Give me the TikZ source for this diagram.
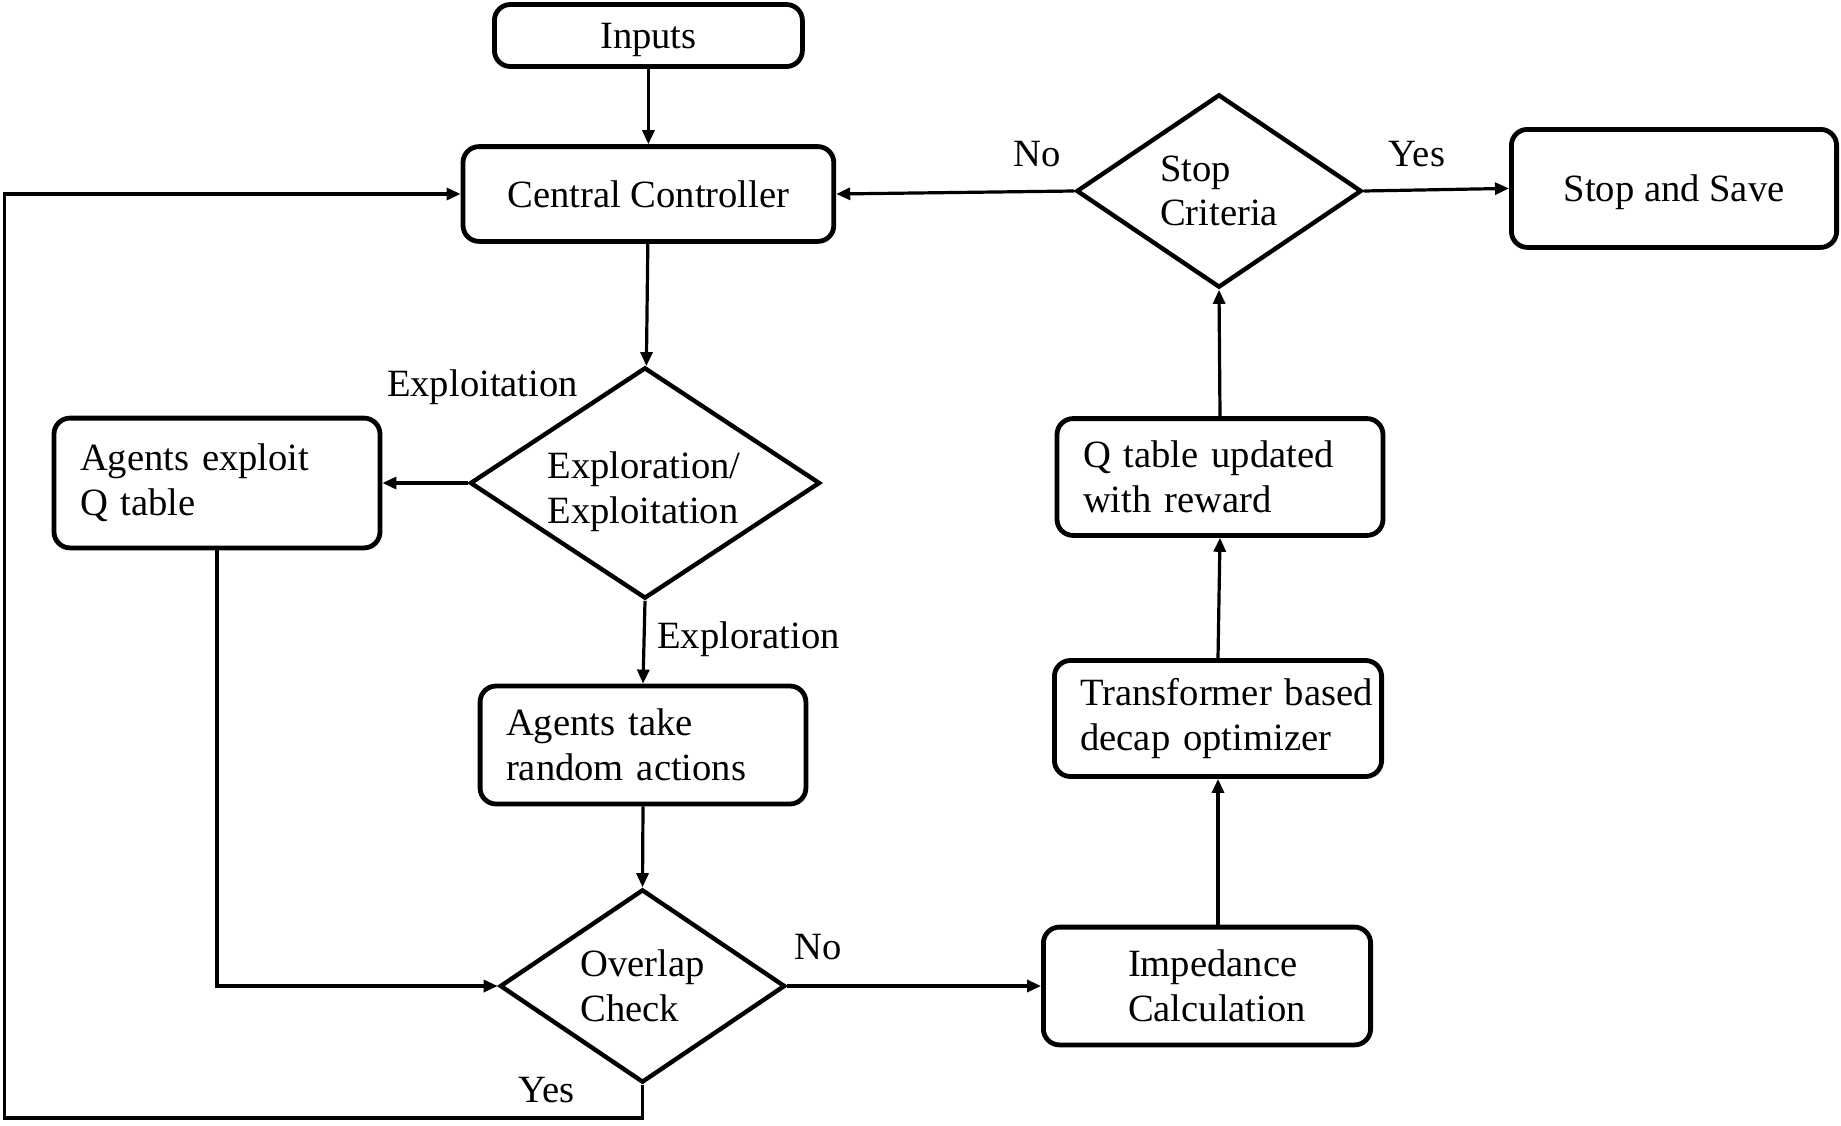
\documentclass[tikz,border=0pt]{standalone}
\usepackage{fontspec}
\setmainfont{Liberation Serif}
\usetikzlibrary{shapes.geometric,arrows.meta}
\begin{document}
\begin{tikzpicture}[x=0.5pt,y=-0.5pt,
  every node/.style={font=\fontsize{19.3pt}{22.3pt}\selectfont},
  box/.style={draw, rounded corners=8pt, line width=2.4pt, inner xsep=13pt, inner ysep=0pt},
  decision/.style={draw, diamond, aspect=1.5, inner sep=0pt, line width=2.2pt, align=left},
  flow/.style={line width=1.6pt, -{Triangle[length=7pt,width=6pt]}},
  tag/.style={inner sep=0pt}
]
\useasboundingbox (0,0) rectangle (1841,1125);

% process boxes and decisions
\node[box, text depth=0pt, minimum width=154pt, minimum height=31pt] (inputs) at (648.4,35.5) {Inputs};
\node[box, minimum width=185.4pt, minimum height=47.4pt] (cc) at (648.4,194) {Central Controller};
\node[decision, minimum width=175pt, minimum height=115.6pt] (explore) at (645,483) {};
\node[tag, align=left] (exploretext) at (644,492) {Exploration/\\Exploitation};
\node[box, align=left, text width=137pt, minimum height=64.9pt] (exploit) at (217,483) {Agents exploit\\Q table};
\node[box, align=left, text width=136.9pt, minimum height=59pt] (random) at (643,745) {Agents take\\random actions};
\node[decision, minimum width=142.6pt, minimum height=96.6pt] (overlap) at (642.5,986) {Overlap\\Check};
\node[box, align=left, inner xsep=42.3pt, text width=79pt, minimum height=58.9pt] (imped) at (1207,986) {Impedance\\Calculation};
\node[box, align=left, text width=137.6pt, minimum height=58pt] (decap) at (1218,718.5) {\mbox{Transformer based}\\decap optimizer};
\node[box, align=left, text width=137pt, minimum height=58.4pt] (qtab) at (1220,477) {Q table updated\\with reward};
\node[decision, minimum width=142.6pt, minimum height=96.6pt] (stop) at (1219,191) {Stop\\Criteria};
\node[box, text depth=0pt, minimum width=162.6pt, minimum height=59pt] (save) at (1674,188.4) {Stop and Save};

% branch labels
\node[tag] (lexploit) at (482.5,387) {Exploitation};
\node[tag, anchor=west] (lexplore) at (657,639) {Exploration};
\node[tag] (loverno) at (818.5,947) {No};
\node[tag] (loveryes) at (546.5,1090) {Yes};
\node[tag] (lstopno) at (1037.5,153.6) {No};
\node[tag] (lstopyes) at (1417,153.6) {Yes};

% connectors
\coordinate (loopcorner) at (4.7,1118);
\draw[flow] (inputs) -- (cc);
\draw[flow] (cc) -- (explore);
\draw[flow] (explore.west) -- (exploit.east);
\draw[flow] (explore.south) -- (random.north);
\draw[flow] (random.south) -- (overlap.north);
\draw[flow] (exploit.south) |- (overlap.west);
\draw[flow] (overlap.east) -- (imped.west);
\draw[flow] (overlap.south) -- (overlap.south |- loopcorner) -- (loopcorner) |- (cc.west);
\draw[flow] (decap.south |- imped.north) -- (decap.south);
\draw[flow] (decap.north) -- (qtab.south);
\draw[flow] (qtab.north) -- (stop.south);
\draw[flow] (stop.west) -- (cc.east);
\draw[flow] (stop.east) -- (save.west);
\end{tikzpicture}
\end{document}
